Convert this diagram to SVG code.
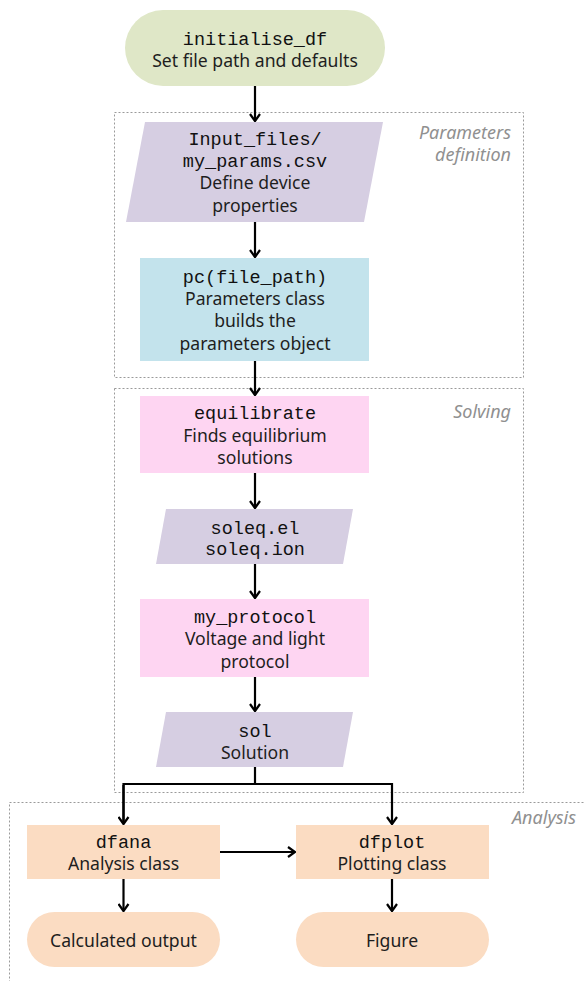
<svg xmlns="http://www.w3.org/2000/svg" width="584" height="981" viewBox="0 0 584 981">
  <style>
    .mono { font-family: "Liberation Mono", "Courier New", monospace; font-size: 18.5px; fill: #111; text-anchor: middle; }
    .sans { font-family: "Noto Sans", "Open Sans", sans-serif; font-size: 17.6px; fill: #1e1e1e; text-anchor: middle; }
    .grp { fill: none; stroke: #9a9a9a; stroke-width: 1; stroke-dasharray: 2 2; }
    .glabel { font-family: "Noto Sans", "Open Sans", sans-serif; font-size: 18px; font-style: italic; fill: #909090; text-anchor: end; }
    .conn { fill: none; stroke: #000; stroke-width: 2.2; }
    .green { fill: #dfe7c7; }
    .purple { fill: #d6cee2; }
    .blue { fill: #c3e3ec; }
    .pink { fill: #fed5f2; }
    .peach { fill: #fbdcc2; }
  </style>
  <defs>
    <marker id="arrow" viewBox="0 0 12 12" refX="10" refY="6" markerWidth="12" markerHeight="12" markerUnits="userSpaceOnUse" orient="auto">
      <path d="M3,1 L10,6 L3,11" fill="none" stroke="#000" stroke-width="2.2"/>
    </marker>
  </defs>

  <rect width="584" height="981" fill="#fff"/>

  <!-- group frames -->
  <g id="groups">
    <rect class="grp" x="114.5" y="112.5" width="409" height="265"/>
    <text class="glabel" x="511" y="139">Parameters</text>
    <text class="glabel" x="511" y="161">definition</text>
    <rect class="grp" x="114.5" y="388.5" width="409" height="404"/>
    <text class="glabel" x="511" y="418">Solving</text>
    <rect class="grp" x="9.5" y="802.5" width="590" height="200"/>
    <text class="glabel" x="576" y="824">Analysis</text>
  </g>

  <!-- connectors -->
  <g id="connectors">
    <line class="conn" x1="255" y1="86" x2="255" y2="121" marker-end="url(#arrow)"/>
    <line class="conn" x1="255" y1="222" x2="255" y2="257" marker-end="url(#arrow)"/>
    <line class="conn" x1="255" y1="361" x2="255" y2="395" marker-end="url(#arrow)"/>
    <line class="conn" x1="255" y1="473" x2="255" y2="508" marker-end="url(#arrow)"/>
    <line class="conn" x1="255" y1="564" x2="255" y2="598" marker-end="url(#arrow)"/>
    <line class="conn" x1="255" y1="677" x2="255" y2="711" marker-end="url(#arrow)"/>
    <polyline class="conn" points="255,767 255,784"/>
    <polyline class="conn" points="123.5,824 123.5,784 392,784 392,824" marker-end="url(#arrow)"/>
    <line class="conn" x1="123.5" y1="785" x2="123.5" y2="824" marker-end="url(#arrow)"/>
    <line class="conn" x1="220" y1="852" x2="295" y2="852" marker-end="url(#arrow)"/>
    <line class="conn" x1="123.5" y1="879" x2="123.5" y2="911" marker-end="url(#arrow)"/>
    <line class="conn" x1="392" y1="879" x2="392" y2="911" marker-end="url(#arrow)"/>
  </g>

  <g id="initialise_df">
    <rect class="green" x="125" y="10" width="260" height="76" rx="38"/>
    <text class="mono" x="255" y="45">initialise_df</text>
    <text class="sans" x="255" y="67">Set file path and defaults</text>
  </g>

  <g id="my_params">
    <polygon class="purple" points="145,122 383,122 364,222 126,222"/>
    <text class="mono" x="255" y="145">Input_files/</text>
    <text class="mono" x="255" y="167">my_params.csv</text>
    <text class="sans" x="255" y="189">Define device</text>
    <text class="sans" x="255" y="212">properties</text>
  </g>

  <g id="pc">
    <rect class="blue" x="140" y="258" width="229" height="103"/>
    <text class="mono" x="255" y="283">pc(file_path)</text>
    <text class="sans" x="255" y="305">Parameters class</text>
    <text class="sans" x="255" y="327">builds the</text>
    <text class="sans" x="255" y="350">parameters object</text>
  </g>

  <g id="equilibrate">
    <rect class="pink" x="140" y="396" width="229" height="77"/>
    <text class="mono" x="255" y="419">equilibrate</text>
    <text class="sans" x="255" y="442">Finds equilibrium</text>
    <text class="sans" x="255" y="464">solutions</text>
  </g>

  <g id="soleq">
    <polygon class="purple" points="166,509 353,509 343,564 156,564"/>
    <text class="mono" x="255" y="534">soleq.el</text>
    <text class="mono" x="255" y="555">soleq.ion</text>
  </g>

  <g id="my_protocol">
    <rect class="pink" x="140" y="599" width="229" height="78"/>
    <text class="mono" x="255" y="623">my_protocol</text>
    <text class="sans" x="255" y="645">Voltage and light</text>
    <text class="sans" x="255" y="668">protocol</text>
  </g>

  <g id="sol">
    <polygon class="purple" points="166,712 353,712 343,767 156,767"/>
    <text class="mono" x="255" y="737">sol</text>
    <text class="sans" x="255" y="759">Solution</text>
  </g>

  <g id="dfana">
    <rect class="peach" x="27" y="825" width="193" height="54"/>
    <text class="mono" x="123.5" y="848">dfana</text>
    <text class="sans" x="123.5" y="870">Analysis class</text>
  </g>

  <g id="dfplot">
    <rect class="peach" x="296" y="825" width="193" height="54"/>
    <text class="mono" x="392" y="848">dfplot</text>
    <text class="sans" x="392" y="870">Plotting class</text>
  </g>

  <g id="calculated_output">
    <rect class="peach" x="27" y="912" width="193" height="55" rx="27.5"/>
    <text class="sans" x="123.5" y="947">Calculated output</text>
  </g>

  <g id="figure">
    <rect class="peach" x="296" y="912" width="193" height="55" rx="27.5"/>
    <text class="sans" x="392" y="947">Figure</text>
  </g>
</svg>
